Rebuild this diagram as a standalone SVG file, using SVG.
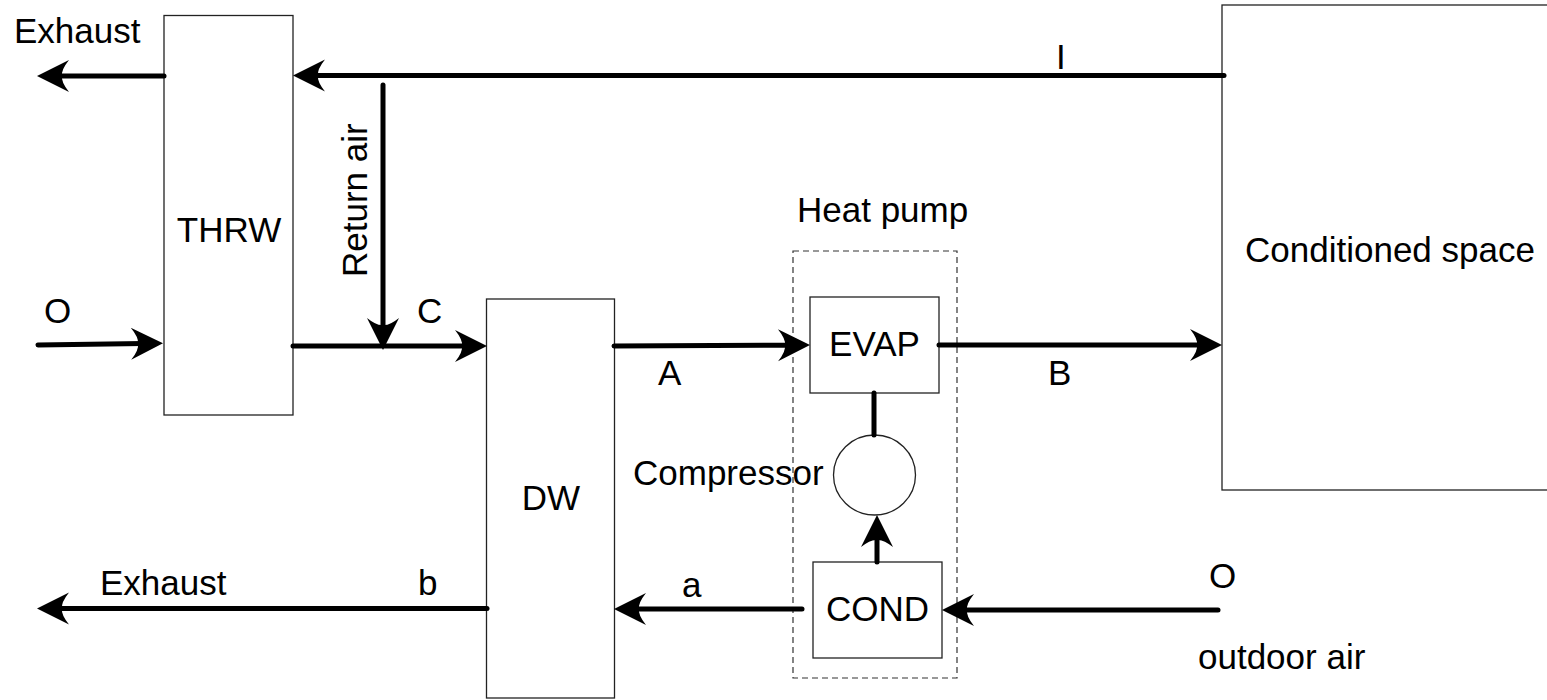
<svg xmlns="http://www.w3.org/2000/svg" width="1547" height="700" viewBox="0 0 1547 700">
<defs>
<marker id="ah" markerUnits="userSpaceOnUse" viewBox="-34 -17 36 34" markerWidth="36" markerHeight="34" refX="-20" refY="0" orient="auto">
<path d="M0,0 L-32,-16 Q-24,-6 -25,0 Q-24,6 -32,16 Z" fill="#000"/>
</marker>
</defs>
<style>
text{font-family:"Liberation Sans",Arial,sans-serif;font-size:35px;fill:#000}
.box{fill:#fff;stroke:#222;stroke-width:1.3}
.flow{fill:none;stroke:#000;stroke-width:5;stroke-linecap:round}
.arr{marker-end:url(#ah)}
.dash{fill:none;stroke:#333;stroke-width:1.2;stroke-dasharray:6,4}
</style>
<rect width="1547" height="700" fill="#fff"/>
<g id="conditioned-space"><rect class="box" x="1222" y="5" width="340" height="485"/><text x="1245" y="262">Conditioned space</text></g>
<g id="thrw"><rect class="box" x="164" y="15.5" width="129" height="399.5"/><text x="229" y="242" text-anchor="middle">THRW</text></g>
<g id="dw"><rect class="box" x="486.5" y="299" width="128" height="399"/><text x="551" y="510" text-anchor="middle">DW</text></g>
<g id="heat-pump"><rect class="dash" x="793" y="251" width="164" height="427"/><text x="797" y="222">Heat pump</text></g>
<g id="evap"><rect class="box" x="810" y="297" width="129" height="96"/><text x="874.5" y="356" text-anchor="middle">EVAP</text></g>
<g id="cond"><rect class="box" x="813" y="562" width="129" height="96"/><text x="877.5" y="621" text-anchor="middle">COND</text></g>
<g id="compressor"><ellipse cx="874.5" cy="475" rx="41" ry="40" fill="#fff" stroke="#222" stroke-width="1.3"/><text x="633" y="485">Compressor</text></g>
<g id="connectors">
<path class="flow arr" d="M1224,75.5 L313,75.5"/>
<path class="flow arr" d="M164,76 L57,76"/>
<path class="flow arr" d="M383,85 L383,330"/>
<path class="flow arr" d="M293,346 L467,346"/>
<path class="flow arr" d="M38,345 L143,343.6"/>
<path class="flow arr" d="M614,346 L790,345.2"/>
<path class="flow arr" d="M939,345 L1202,345"/>
<path class="flow" d="M874,393 L874,435"/>
<path class="flow arr" d="M877,562 L877,535"/>
<path class="flow arr" d="M802,609 L634,609"/>
<path class="flow arr" d="M1218,610 L962,610"/>
<path class="flow arr" d="M487,608.5 L57,608.5"/>
</g>
<g id="labels">
<text x="14" y="43">Exhaust</text>
<text transform="translate(367,277) rotate(-90)">Return air</text>
<text x="417" y="323">C</text>
<text x="44" y="323">O</text>
<text x="1056" y="69">I</text>
<text x="658" y="385">A</text>
<text x="1048" y="385">B</text>
<text x="682" y="597">a</text>
<text x="100" y="595">Exhaust</text>
<text x="418" y="595">b</text>
<text x="1209" y="588">O</text>
<text x="1198" y="669">outdoor air</text>
</g>
</svg>
